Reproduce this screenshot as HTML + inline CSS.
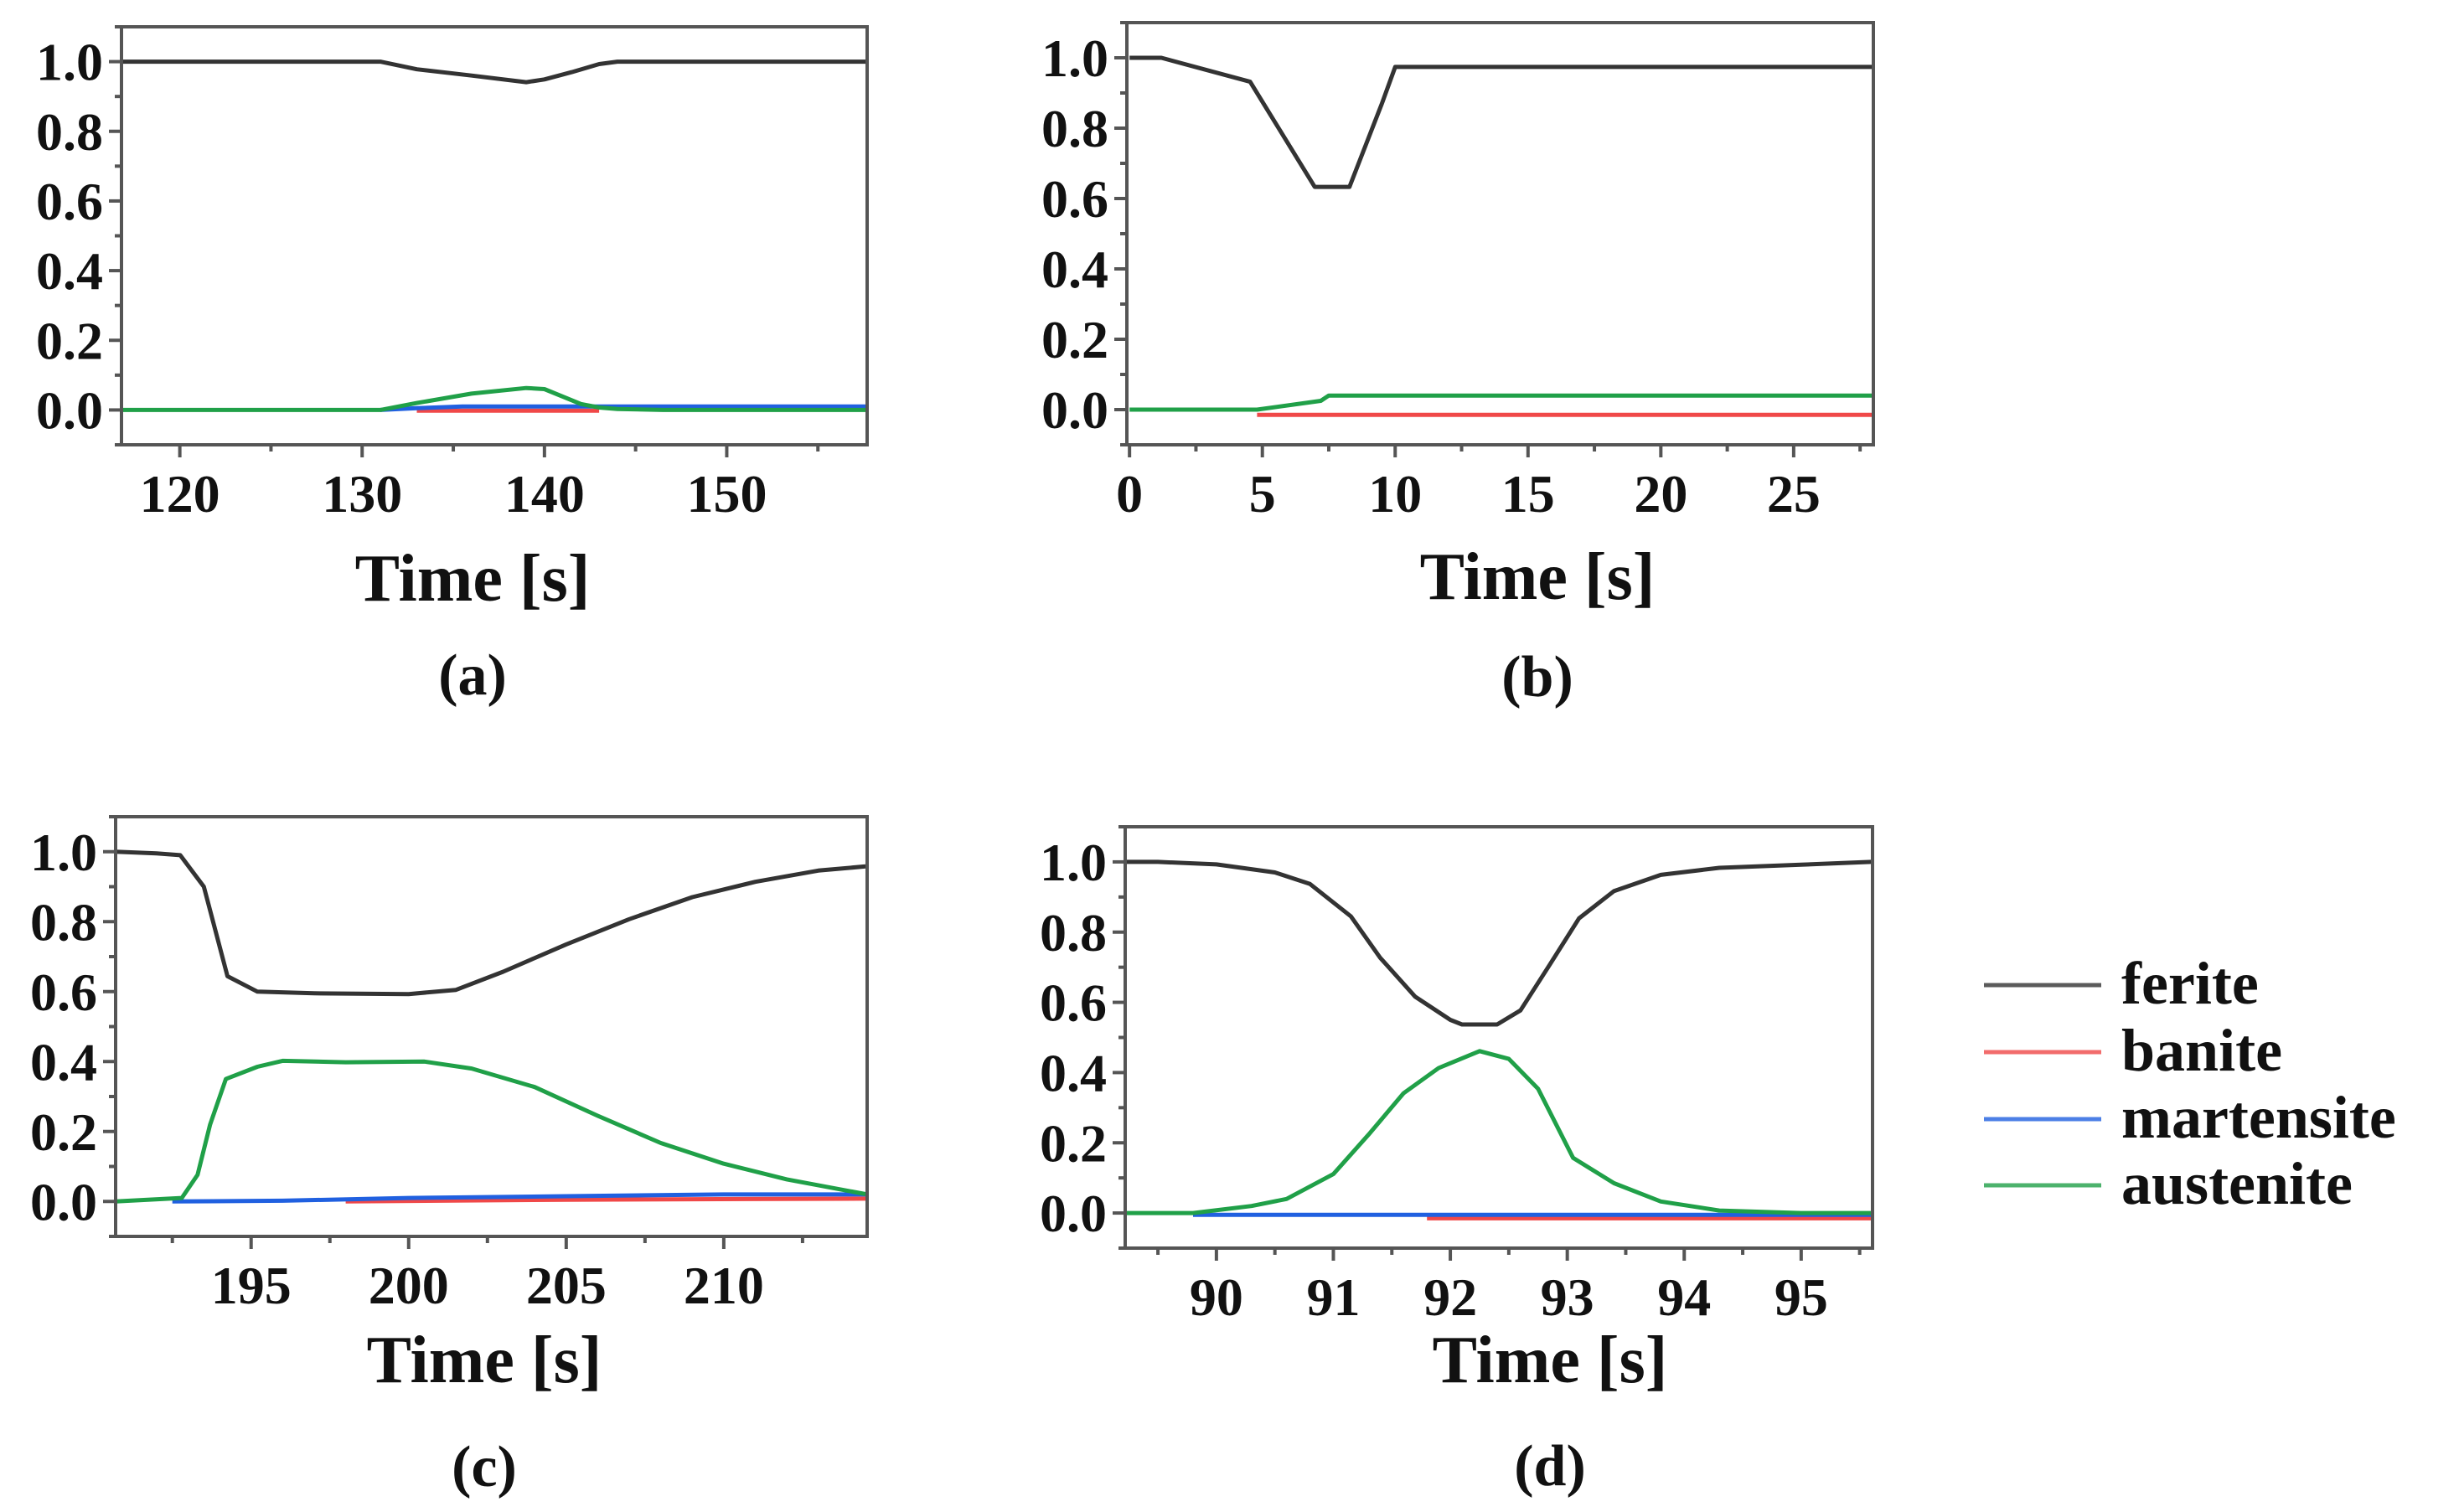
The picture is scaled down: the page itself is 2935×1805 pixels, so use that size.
<!DOCTYPE html>
<html><head><meta charset="utf-8"><style>
html,body{margin:0;padding:0;background:#fff;}
svg{display:block;}
text{font-family:"Liberation Serif",serif;font-weight:bold;fill:#111;}
</style></head><body>
<svg id="fig" width="2935" height="1805" viewBox="0 0 2935 1805" xmlns="http://www.w3.org/2000/svg"></svg>
<script>
// ---- data ----
const aFeriteT=[116.8,131,133,136,139,140,141.5,143,144,157.7];
const aFeriteV=[1.0,1.0,0.978,0.96,0.941,0.949,0.97,0.993,1.0,1.0];
const aAustT=[116.8,131,133,136,139,140,142,143,144,146.5,157.7];
const aAustV=[0,0,0.02,0.047,0.063,0.06,0.017,0.007,0.003,0,0];
const aMartT=[131,133,135.5,146.5,157.7];
const aMartV=[0,0.005,0.01,0.01,0.01];
const aBanT=[133,143];
const aBanV=[-0.002,-0.002];

const bFeriteT=[0,1.2,4.54,6.97,8.28,9.5,10.0,28];
const bFeriteV=[1.0,1.0,0.932,0.633,0.633,0.87,0.974,0.974];
const bAustT=[0,4.8,7.2,7.5,28];
const bAustV=[0,0,0.025,0.04,0.04];
const bBanT=[4.8,28];
const bBanV=[-0.015,-0.015];

const cFeriteT=[190.7,192,192.75,193.5,194.25,195.2,197,200,201.5,203,205,207,209,211,213,214.5];
const cFeriteV=[1.0,0.995,0.99,0.9,0.644,0.6,0.595,0.593,0.605,0.657,0.735,0.807,0.87,0.914,0.946,0.958];
const cAustT=[190.7,192.8,193.3,193.7,194.2,195.2,196,198,200.5,202,204,206,208,210,212,214.5];
const cAustV=[0,0.01,0.076,0.22,0.35,0.385,0.402,0.398,0.4,0.38,0.327,0.245,0.167,0.108,0.063,0.021];
const cMartT=[192.5,196,200,205,210,214.5];
const cMartV=[0,0.002,0.01,0.015,0.02,0.02];
const cBanT=[198,205,214.5];
const cBanV=[0,0.005,0.008];

const dFeriteT=[89.22,89.5,90,90.5,90.8,91.15,91.4,91.7,92,92.1,92.4,92.6,92.85,93.1,93.4,93.8,94.3,95,95.6];
const dFeriteV=[1.0,1.0,0.993,0.97,0.937,0.845,0.727,0.616,0.55,0.537,0.537,0.577,0.707,0.839,0.917,0.963,0.983,0.992,1.0];
const dAustT=[89.22,89.8,90.3,90.6,91,91.3,91.6,91.9,92.25,92.5,92.75,93.05,93.4,93.8,94.3,95,95.6];
const dAustV=[0,0,0.02,0.04,0.111,0.223,0.341,0.413,0.461,0.439,0.354,0.157,0.085,0.033,0.007,0,0];
const dMartT=[89.8,95.6];
const dMartV=[-0.005,-0.005];
const dBanT=[91.8,95.6];
const dBanV=[-0.015,-0.015];

const aXTicks=[120,130,140,150];
const bXTicks=[0,5,10,15,20,25];
const cXTicks=[195,200,205,210];
const dXTicks=[90,91,92,93,94,95];
const yTicks=["0.0","0.2","0.4","0.6","0.8","1.0"];
const legendLabels=["ferite","banite","martensite","austenite"];

const COL={ferite:"#333333",banite:"#f04848",martensite:"#2060e0",austenite:"#20a048"};
const svg=document.getElementById('fig');
const NS="http://www.w3.org/2000/svg";
function mk(tag,attrs,parent){const e=document.createElementNS(NS,tag);for(const k in attrs)e.setAttribute(k,attrs[k]);(parent||svg).appendChild(e);return e;}

function panel(id,L,R,T,B,x0,x1,xTicks,minorStep,series,cap,capX,tOff,cOff){
  const g=mk('g',{});
  
  
  const ymin=-0.1,ymax=1.1;
  const sx=t=>L+(t-x0)/(x1-x0)*(R-L);
  const sy=v=>B-(v-ymin)/(ymax-ymin)*(B-T);
  series.forEach(s=>{
    const d=s.t.map((t,i)=>(i?'L':'M')+sx(t).toFixed(1)+' '+sy(s.v[i]).toFixed(1)).join(' ');
    const p=mk('path',{d:d,fill:'none',stroke:COL[s.n],'stroke-width':5,'stroke-linejoin':'round'},g);
    
    
  });
  const fr=mk('rect',{x:L,y:T,width:R-L,height:B-T,fill:'none',stroke:'#555','stroke-width':4},g);
  
  
  for(let k=-1;k<=11;k++){
    const v=k/10, y=sy(v);
    const major=(k%2===0&&k>=0);
    mk('line',{x1:L-(major?15:8),x2:L,y1:y,y2:y,stroke:'#555','stroke-width':4},g);
  }
  yTicks.forEach(lbl=>{
    const t=mk('text',{x:L-22,y:sy(parseFloat(lbl))+22,'text-anchor':'end','font-size':64},g);
    t.textContent=lbl;
    
    
  });
  const start=Math.ceil(x0/minorStep)*minorStep;
  for(let t=start;t<=x1+1e-9;t+=minorStep){
    const isMajor=xTicks.some(m=>Math.abs(m-t)<1e-6);
    mk('line',{x1:sx(t),x2:sx(t),y1:B,y2:B+(isMajor?15:8),stroke:'#555','stroke-width':4},g);
  }
  xTicks.forEach(v=>{
    const t=mk('text',{x:sx(v),y:B+80,'text-anchor':'middle','font-size':64},g);
    t.textContent=v;
    
    
  });
  const xt=mk('text',{x:capX,y:B+tOff,'text-anchor':'middle','font-size':80},g);
  xt.textContent='Time [s]';
  
  
  const c=mk('text',{x:capX,y:B+cOff,'text-anchor':'middle','font-size':70},g);
  c.textContent=cap;
  
  
}

panel('a',145,1035,32,531,116.8,157.7,aXTicks,5,[
  {n:'ferite',t:aFeriteT,v:aFeriteV},{n:'banite',t:aBanT,v:aBanV},
  {n:'martensite',t:aMartT,v:aMartV},{n:'austenite',t:aAustT,v:aAustV}],'(a)',564,186,298);
panel('b',1345,2236,27,531,-0.1,28,bXTicks,2.5,[
  {n:'ferite',t:bFeriteT,v:bFeriteV},{n:'banite',t:bBanT,v:bBanV},
  {n:'austenite',t:bAustT,v:bAustV}],'(b)',1835,184,300);
panel('c',138,1035,975,1476,190.7,214.55,cXTicks,2.5,[
  {n:'ferite',t:cFeriteT,v:cFeriteV},{n:'banite',t:cBanT,v:cBanV},
  {n:'martensite',t:cMartT,v:cMartV},{n:'austenite',t:cAustT,v:cAustV}],'(c)',578,174,298);
panel('d',1343,2235,987,1490,89.22,95.61,dXTicks,0.5,[
  {n:'ferite',t:dFeriteT,v:dFeriteV},{n:'banite',t:dBanT,v:dBanV},
  {n:'martensite',t:dMartT,v:dMartV},{n:'austenite',t:dAustT,v:dAustV}],'(d)',1850,160,283);

const lg=mk('g',{});


const legY=[1176,1256,1336,1415];
const legKeys=['ferite','banite','martensite','austenite'];
legendLabels.forEach((lbl,i)=>{
  const ln=mk('line',{x1:2368,x2:2508,y1:legY[i],y2:legY[i],stroke:COL[legKeys[i]],'stroke-width':5,opacity:0.8},lg);
  
  
  const t=mk('text',{x:2532,y:legY[i]+22,'font-size':72},lg);
  t.textContent=lbl;
  
  
});
</script>
</body></html>
